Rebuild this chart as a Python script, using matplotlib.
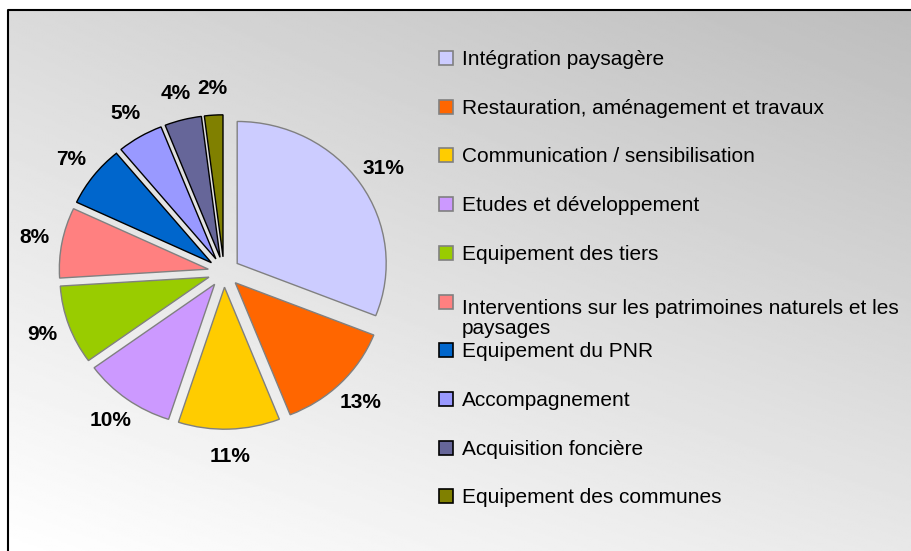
# exploded pie of the budget split, with a legend on the right

import matplotlib
matplotlib.use('Agg')
import matplotlib.pyplot as plt
from matplotlib.patches import Rectangle
import numpy as np

labels = ['Intégration paysagère',
          'Restauration, aménagement et travaux',
          'Communication / sensibilisation',
          'Etudes et développement',
          'Equipement des tiers',
          'Interventions sur les patrimoines naturels et les\npaysages',
          'Equipement du PNR',
          'Accompagnement',
          'Acquisition foncière',
          'Equipement des communes']
values = [31, 13, 11, 10, 9, 8, 7, 5, 4, 2]
colors = ['#CCCCFF', '#FF6600', '#FFCC00', '#CC99FF', '#99CC00',
          '#FF8080', '#0066CC', '#9999FF', '#666699', '#808000']
edges = ['#808080'] * 6 + ['#000000'] * 4

plt.rcParams['font.family'] = ['Liberation Sans', 'DejaVu Sans']

W, H = 911, 551
fig = plt.figure(figsize=(W / 100, H / 100), dpi=100)
fig.patch.set_facecolor('white')

# background panel: gradient, dark top-right to white bottom-left
bg = fig.add_axes([0, 0, 1, 1], zorder=0)
bg.set_xlim(0, W)
bg.set_ylim(H, 0)
bg.axis('off')
U, V = np.meshgrid(np.linspace(0, 1, 300), np.linspace(0, 1, 300))
tl, tr, bl, br = 218, 189, 255, 232
grad = (tl * (1 - U) * (1 - V) + tr * U * (1 - V) + bl * (1 - U) * V + br * U * V) / 255
bg.imshow(grad, cmap='gray', vmin=0, vmax=1, extent=(8, W, H, 10),
          aspect='auto', origin='upper', interpolation='bilinear')
bg.plot([8, 8, W], [H, 10, 10], color='black', lw=1.5, solid_capstyle='butt')

# legend drawn by hand; multi-line labels: baseline of the last line is given
y0, step, line_h = 65, 48.7, 25
for i, lab in enumerate(labels):
    yb = y0 + i * step
    bg.add_patch(Rectangle((439, yb - 14), 14, 14, facecolor=colors[i],
                           edgecolor=edges[i], lw=1.2))
    extra = lab.count('\n') * line_h
    bg.text(462, yb + extra, lab, fontsize=15, va='baseline', ha='left',
            color='black', linespacing=1.05)

# pie
cx, cy, rx, ry = 224, 272, 149, 142
ax = fig.add_axes([0, 0, 1, 1], zorder=2)
wedges, texts, autotexts = ax.pie(values, colors=colors, explode=[0.107] * len(values),
                                  startangle=90, counterclock=False,
                                  autopct='%1.0f%%', pctdistance=1.19,
                                  wedgeprops=dict(linewidth=1.0))
for w, ec in zip(wedges, edges):
    w.set_edgecolor(ec)
for t in autotexts:
    t.set_fontsize(15)
    t.set_fontweight('bold')
    t.set_color('black')
ax.set_aspect('auto')
ax.set_xlim(-cx / rx, (W - cx) / rx)
ax.set_ylim(-(H - cy) / ry, cy / ry)
ax.axis('off')

fig.savefig('out.png', dpi=100)
